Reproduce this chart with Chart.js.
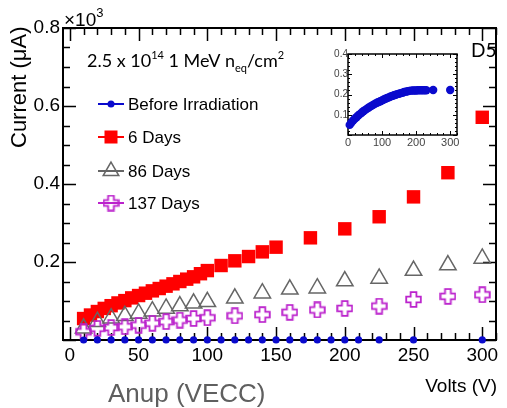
<!DOCTYPE html>
<html>
<head>
<meta charset="utf-8">
<script src="https://cdn.jsdelivr.net/npm/chart.js@4.4.0/dist/chart.umd.min.js"></script>
<style>
    html, body { margin: 0; padding: 0; background: #fff; }
    #wrap { position: relative; width: 507px; height: 408px; overflow: hidden; }
    #main { position: absolute; left: 0; top: 0; }
    #inset { position: absolute; left: 317px; top: 47px; }
</style>
</head>
<body>
<div id="wrap">
    <canvas id="main" width="507" height="408"></canvas>
    <canvas id="inset" width="150" height="104"></canvas>
</div>
<script>
// values; main plot current is in units of 10^3 uA
const voltsBefore = [10, 20, 30, 40, 50, 60, 70, 80, 90, 100, 110, 120, 130, 140, 150, 160, 170, 180, 190, 200, 210, 225, 250, 300];
const currentBefore = [0.00006, 0.00008, 0.0001, 0.00011, 0.00012, 0.00014, 0.00015, 0.00016, 0.00016, 0.00017, 0.00018, 0.00019,
    0.00019, 0.0002, 0.0002, 0.00021, 0.00021, 0.00022, 0.00022, 0.00022, 0.00022, 0.00022, 0.00022, 0.00022];

const volts6 = [10, 15, 20, 25, 30, 35, 40, 45, 50, 55, 60, 65, 70, 75, 80, 85, 90, 95, 100, 110, 120, 130, 140, 150, 175, 200, 225, 250, 275, 300];
const current6 = [0.055, 0.064, 0.073, 0.081, 0.088, 0.095, 0.101, 0.108, 0.114, 0.12, 0.126, 0.132, 0.138, 0.144, 0.15, 0.156, 0.162, 0.17, 0.178,
    0.191, 0.203, 0.214, 0.226, 0.238, 0.262, 0.285, 0.316, 0.367, 0.429, 0.571];

const volts86 = [10, 20, 30, 40, 50, 60, 70, 80, 90, 100, 120, 140, 160, 180, 200, 225, 250, 275, 300];
const current86 = [0.03, 0.047, 0.056, 0.062, 0.068, 0.074, 0.081, 0.087, 0.094, 0.098, 0.107, 0.12, 0.13, 0.133, 0.151, 0.158, 0.178, 0.192, 0.209];

const volts137 = [10, 20, 30, 40, 50, 60, 70, 80, 90, 100, 120, 140, 160, 180, 200, 225, 250, 275, 300];
const current137 = [0.021, 0.03, 0.032, 0.034, 0.038, 0.043, 0.047, 0.051, 0.055, 0.057, 0.062, 0.065, 0.071, 0.077, 0.081, 0.087, 0.104, 0.112, 0.116];

// inset: before irradiation, in uA
const insetVolts = [5, 10, 15, 20, 25, 30, 35, 40, 45, 50, 55, 60, 65, 70, 75, 80, 85, 90, 95, 100, 105, 110, 115, 120, 125, 130, 135, 140, 145, 150,
    155, 160, 165, 170, 175, 180, 185, 190, 195, 200, 205, 210, 215, 220, 225, 230, 250, 300];
const insetCurrent = [0.05, 0.062, 0.072, 0.08, 0.088, 0.096, 0.103, 0.11, 0.117, 0.123, 0.129, 0.135, 0.14, 0.145, 0.15, 0.155, 0.159, 0.163, 0.167,
    0.171, 0.175, 0.179, 0.183, 0.186, 0.19, 0.193, 0.196, 0.199, 0.202, 0.204, 0.207, 0.209, 0.212, 0.214, 0.216, 0.218, 0.219, 0.22, 0.22, 0.22,
    0.221, 0.221, 0.221, 0.221, 0.221, 0.221, 0.222, 0.222];

const seriesNames = ["Before Irradiation", "6 Days", "86 Days", "137 Days"];
const xTickLabels = [0, 50, 100, 150, 200, 250, 300];
const yTickLabels = [0.2, 0.4, 0.6, 0.8];
const insetXTickLabels = [0, 100, 200, 300];
const insetYTickLabels = [0.1, 0.2, 0.3, 0.4];

const BLUE = "#0a0acd";
const RED = "#ff0000";
const GRAY = "#666666";
const MAGENTA = "#bb22cc";
const SANS = "'Liberation Sans', Arial, sans-serif";
const NOTE = "Lato, 'Open Sans', sans-serif";

const toPoints = (xs, ys) => xs.map((x, i) => ({ x, y: ys[i] }));

// open cross marker, as a small canvas used for pointStyle
function makeCross(size, color) {
    const c = document.createElement("canvas");
    c.width = size;
    c.height = size;
    const g = c.getContext("2d");
    const m = size / 2, a = size / 2 - 1.2, w = size * 0.17;
    g.beginPath();
    g.moveTo(m - w, m - a); g.lineTo(m + w, m - a); g.lineTo(m + w, m - w);
    g.lineTo(m + a, m - w); g.lineTo(m + a, m + w); g.lineTo(m + w, m + w);
    g.lineTo(m + w, m + a); g.lineTo(m - w, m + a); g.lineTo(m - w, m + w);
    g.lineTo(m - a, m + w); g.lineTo(m - a, m - w); g.lineTo(m - w, m - w);
    g.closePath();
    g.lineWidth = 1.8;
    g.strokeStyle = color;
    g.stroke();
    return c;
}
const crossImg = makeCross(17, MAGENTA);

// ROOT-like frame with inward ticks on all four sides
const frameTicks = {
    id: "frameTicks",
    beforeDatasetsDraw(chart) {
        const o = chart.options.plugins.frameTicks;
        const { ctx, chartArea: a, scales } = chart;
        ctx.save();
        ctx.strokeStyle = "#000";
        ctx.lineWidth = o.lineWidth;
        ctx.beginPath();
        for (let v = o.xFrom; v <= o.xTo + 1e-9; v += o.xMinor) {
            const px = Math.round(scales.x.getPixelForValue(v)) + 0.5;
            const major = Math.abs(v / o.xMajor - Math.round(v / o.xMajor)) < 1e-6;
            const len = major ? o.majorLen : o.minorLen;
            ctx.moveTo(px, a.bottom); ctx.lineTo(px, a.bottom - len);
            ctx.moveTo(px, a.top); ctx.lineTo(px, a.top + len);
        }
        for (let v = o.yFrom; v <= o.yTo + 1e-9; v += o.yMinor) {
            const py = Math.round(scales.y.getPixelForValue(v)) + 0.5;
            const major = Math.abs(v / o.yMajor - Math.round(v / o.yMajor)) < 1e-6;
            const len = major ? o.majorLen : o.minorLen;
            ctx.moveTo(a.left, py); ctx.lineTo(a.left + len, py);
            ctx.moveTo(a.right, py); ctx.lineTo(a.right - len, py);
        }
        ctx.stroke();
        ctx.lineWidth = o.frameWidth;
        ctx.strokeRect(a.left, a.top, a.right - a.left, a.bottom - a.top);
        ctx.restore();
    }
};

function drawRich(ctx, x, y, parts) {
    parts.forEach((p) => {
        ctx.font = p.size + "px " + p.family;
        ctx.fillText(p.t, x, y + (p.dy || 0));
        x += ctx.measureText(p.t).width;
    });
}

function drawMarker(ctx, i, x, y) {
    if (i === 0) {
        ctx.fillStyle = BLUE;
        ctx.beginPath(); ctx.arc(x, y, 3.5, 0, Math.PI * 2); ctx.fill();
    } else if (i === 1) {
        ctx.fillStyle = RED;
        ctx.fillRect(x - 6.5, y - 6.5, 13, 13);
    } else if (i === 2) {
        const r = 9;
        ctx.strokeStyle = GRAY; ctx.lineWidth = 1.5;
        ctx.beginPath();
        ctx.moveTo(x, y - r);
        ctx.lineTo(x + r * Math.sin(Math.PI / 3), y + r / 2);
        ctx.lineTo(x - r * Math.sin(Math.PI / 3), y + r / 2);
        ctx.closePath(); ctx.stroke();
    } else {
        ctx.drawImage(crossImg, x - 8.5, y - 8.5);
    }
}

const annotations = {
    id: "annotations",
    afterDraw(chart) {
        const ctx = chart.ctx;
        const lineColors = [BLUE, RED, GRAY, MAGENTA];
        const legendY = [104, 137, 171, 203];
        ctx.save();
        // legend
        seriesNames.forEach((name, i) => {
            ctx.strokeStyle = lineColors[i];
            ctx.lineWidth = 2;
            ctx.beginPath(); ctx.moveTo(98, legendY[i]); ctx.lineTo(124, legendY[i]); ctx.stroke();
            drawMarker(ctx, i, 111, legendY[i]);
            ctx.fillStyle = "#000";
            ctx.font = "17px " + SANS;
            ctx.textBaseline = "middle";
            ctx.fillText(name, 128, legendY[i] + 1);
        });
        ctx.textBaseline = "alphabetic";
        ctx.fillStyle = "#000";
        // exponent of the y axis
        drawRich(ctx, 64, 26, [
            { t: "\u00d710", size: 19, family: SANS },
            { t: "3", size: 13, family: SANS, dy: -9 }
        ]);
        // fluence note
        drawRich(ctx, 87, 67, [
            { t: "2.5 x 10", size: 18, family: NOTE },
            { t: "14", size: 11, family: NOTE, dy: -8 },
            { t: " 1 MeV n", size: 18, family: NOTE },
            { t: "eq", size: 11, family: NOTE, dy: 5 },
            { t: "/cm", size: 18, family: NOTE },
            { t: "2", size: 11, family: NOTE, dy: -8 }
        ]);
        ctx.font = "19px " + NOTE;
        ctx.fillText("D5", 471, 57);
        // axis titles
        ctx.font = "19px " + SANS;
        ctx.textAlign = "right";
        ctx.fillText("Volts (V)", 497, 392);
        ctx.textAlign = "left";
        ctx.save();
        ctx.translate(26, 148);
        ctx.rotate(-Math.PI / 2);
        ctx.font = "22px " + SANS;
        ctx.fillText("Current (\u03bcA)", 0, 0);
        ctx.restore();
        ctx.fillStyle = "#5f5f5f";
        ctx.font = "26px " + SANS;
        ctx.fillText("Anup (VECC)", 108, 402);
        ctx.restore();
    }
};

new Chart(document.getElementById("main"), {
    type: "scatter",
    data: {
        datasets: [
            { label: seriesNames[0], data: toPoints(voltsBefore, currentBefore), pointStyle: "circle", pointRadius: 3.6,
              backgroundColor: BLUE, borderColor: BLUE, borderWidth: 0, clip: false, order: 0 },
            { label: seriesNames[1], data: toPoints(volts6, current6), pointStyle: "rect", pointRadius: 9.5,
              backgroundColor: RED, borderColor: RED, borderWidth: 0, clip: false, order: 3 },
            { label: seriesNames[2], data: toPoints(volts86, current86), pointStyle: "triangle", pointRadius: 9.5,
              backgroundColor: "rgba(0,0,0,0)", borderColor: GRAY, borderWidth: 1.5, clip: false, order: 2 },
            { label: seriesNames[3], data: toPoints(volts137, current137), pointStyle: crossImg, pointRadius: 8,
              clip: false, order: 1 }
        ]
    },
    options: {
        responsive: false,
        animation: false,
        devicePixelRatio: 1,
        events: [],
        layout: { padding: { top: 28, right: 5, left: 0, bottom: 0 } },
        plugins: {
            legend: { display: false },
            tooltip: { enabled: false },
            frameTicks: { xFrom: 0, xTo: 310, xMinor: 10, xMajor: 50, yFrom: 0, yTo: 0.8, yMinor: 0.05, yMajor: 0.2,
                majorLen: 13, minorLen: 7, lineWidth: 1.5, frameWidth: 2 }
        },
        scales: {
            x: {
                type: "linear", min: -5, max: 310,
                grid: { display: false, drawTicks: false }, border: { display: false },
                afterBuildTicks: (s) => { s.ticks = xTickLabels.map((v) => ({ value: v })); },
                afterFit: (s) => { s.height = 68; },
                ticks: { font: { family: SANS, size: 19 }, color: "#000", padding: 4, maxRotation: 0, autoSkip: false,
                    callback: (v) => String(v) }
            },
            y: {
                type: "linear", min: 0, max: 0.8,
                grid: { display: false, drawTicks: false }, border: { display: false },
                afterBuildTicks: (s) => { s.ticks = yTickLabels.map((v) => ({ value: v })); },
                afterFit: (s) => { s.width = 63; },
                ticks: { font: { family: SANS, size: 19 }, color: "#000", padding: 3, autoSkip: false,
                    callback: (v) => v.toFixed(1) }
            }
        }
    },
    plugins: [frameTicks, annotations]
});

new Chart(document.getElementById("inset"), {
    type: "scatter",
    data: {
        datasets: [
            { label: seriesNames[0], data: toPoints(insetVolts, insetCurrent), pointStyle: "circle", pointRadius: 4.2,
              backgroundColor: BLUE, borderColor: BLUE, borderWidth: 0, clip: false }
        ]
    },
    options: {
        responsive: false,
        animation: false,
        devicePixelRatio: 1,
        events: [],
        layout: { padding: { top: 7, right: 10, left: 0, bottom: 0 } },
        plugins: {
            legend: { display: false },
            tooltip: { enabled: false },
            frameTicks: { xFrom: 0, xTo: 320, xMinor: 20, xMajor: 100, yFrom: 0, yTo: 0.4, yMinor: 0.02, yMajor: 0.1,
                majorLen: 4, minorLen: 2, lineWidth: 1, frameWidth: 1.5 }
        },
        scales: {
            x: {
                type: "linear", min: 0, max: 320,
                grid: { display: false, drawTicks: false }, border: { display: false },
                afterBuildTicks: (s) => { s.ticks = insetXTickLabels.map((v) => ({ value: v })); },
                afterFit: (s) => { s.height = 16; },
                ticks: { font: { family: SANS, size: 11 }, color: "#444", padding: 1, maxRotation: 0, autoSkip: false,
                    callback: (v) => String(v) }
            },
            y: {
                type: "linear", min: 0, max: 0.4,
                grid: { display: false, drawTicks: false }, border: { display: false },
                afterBuildTicks: (s) => { s.ticks = insetYTickLabels.map((v) => ({ value: v })); },
                afterFit: (s) => { s.width = 31; },
                ticks: { font: { family: SANS, size: 10 }, color: "#444", padding: 0, autoSkip: false,
                    callback: (v) => v.toFixed(1) }
            }
        }
    },
    plugins: [frameTicks]
});
</script>
</body>
</html>
